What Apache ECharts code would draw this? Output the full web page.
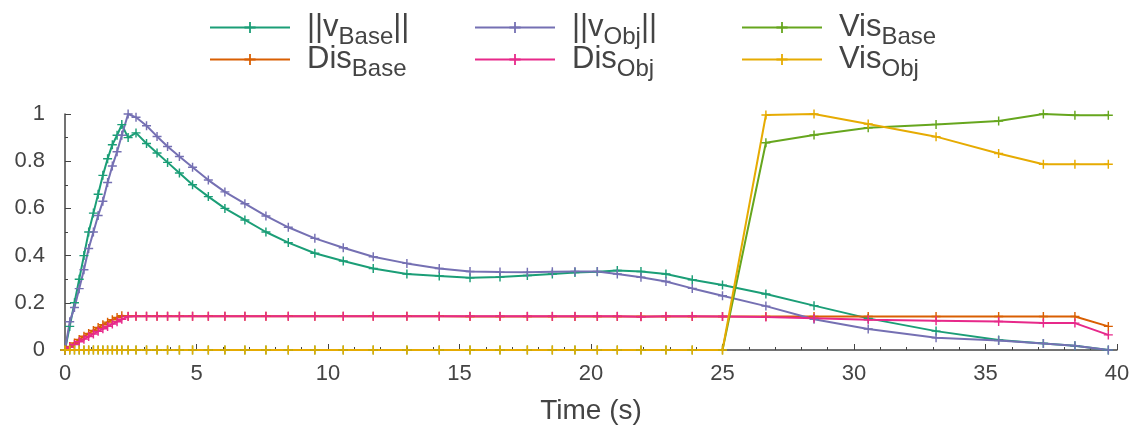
<!DOCTYPE html>
<html>
<head>
<meta charset="utf-8">
<script src="https://cdn.jsdelivr.net/npm/echarts@6/dist/echarts.min.js"></script>
<style>
  html, body { margin: 0; padding: 0; background: #fff; }
  #chart { width: 1134px; height: 430px; }
</style>
</head>
<body>
<div id="chart"></div>
<script>
// sample times (s), shared by every series
const time = [0, 0.18, 0.36, 0.54, 0.72, 0.9, 1.08, 1.26, 1.44, 1.62, 1.8, 1.98, 2.16, 2.4, 2.7,
  3.1, 3.5, 3.9, 4.35, 4.85, 5.45, 6.08, 6.84, 7.64, 8.49, 9.5, 10.58, 11.72, 13.0, 14.23,
  15.4, 16.54, 17.58, 18.53, 19.39, 20.24, 21.0, 21.9, 22.85, 23.85, 25.0, 26.65, 28.48,
  30.54, 33.12, 35.5, 37.2, 38.4, 39.67]

const vBase = [0, 0.10, 0.20, 0.30, 0.40, 0.50, 0.58, 0.66, 0.74, 0.81, 0.87, 0.91, 0.955, 0.90, 0.92,
  0.875, 0.835, 0.795, 0.75, 0.70, 0.65, 0.60, 0.551, 0.50, 0.455, 0.41, 0.377, 0.345, 0.322, 0.314,
  0.306, 0.309, 0.316, 0.322, 0.328, 0.332, 0.337, 0.333, 0.322, 0.298, 0.275, 0.237, 0.188,
  0.134, 0.08, 0.042, 0.028, 0.018, 0]

const disBase = [0, 0.015, 0.03, 0.045, 0.058, 0.07, 0.083, 0.095, 0.107, 0.118, 0.128, 0.138, 0.145, 0.143, 0.143,
  0.143, 0.143, 0.143, 0.143, 0.143, 0.143, 0.143, 0.143, 0.143, 0.143, 0.143, 0.143, 0.143, 0.143, 0.143,
  0.142, 0.142, 0.142, 0.142, 0.142, 0.142, 0.142, 0.142, 0.142, 0.142, 0.142, 0.142, 0.142,
  0.142, 0.142, 0.142, 0.142, 0.142, 0.1]

const vObj = [0, 0.12, 0.18, 0.26, 0.34, 0.43, 0.50, 0.57, 0.63, 0.71, 0.78, 0.84, 0.91, 1.0, 0.986,
  0.95, 0.905, 0.862, 0.82, 0.774, 0.72, 0.67, 0.62, 0.568, 0.52, 0.473, 0.433, 0.395, 0.367, 0.345,
  0.333, 0.33, 0.329, 0.332, 0.333, 0.333, 0.322, 0.308, 0.29, 0.261, 0.23, 0.186, 0.13,
  0.089, 0.052, 0.04, 0.028, 0.018, 0]

const disObj = [0, 0.012, 0.023, 0.035, 0.046, 0.057, 0.068, 0.079, 0.09, 0.10, 0.11, 0.12, 0.13, 0.142, 0.143,
  0.143, 0.143, 0.143, 0.143, 0.143, 0.143, 0.143, 0.143, 0.143, 0.143, 0.143, 0.143, 0.143, 0.143, 0.143,
  0.143, 0.143, 0.143, 0.143, 0.143, 0.143, 0.143, 0.141, 0.143, 0.143, 0.142, 0.14, 0.135,
  0.128, 0.124, 0.121, 0.114, 0.114, 0.064]

const visBase = [0, 0, 0, 0, 0, 0, 0, 0, 0, 0, 0, 0, 0, 0, 0,
  0, 0, 0, 0, 0, 0, 0, 0, 0, 0, 0, 0, 0, 0, 0,
  0, 0, 0, 0, 0, 0, 0, 0, 0, 0, 0, 0.878, 0.911,
  0.942, 0.956, 0.97, 1.0, 0.995, 0.995]

const visObj = [0, 0, 0, 0, 0, 0, 0, 0, 0, 0, 0, 0, 0, 0, 0,
  0, 0, 0, 0, 0, 0, 0, 0, 0, 0, 0, 0, 0, 0, 0,
  0, 0, 0, 0, 0, 0, 0, 0, 0, 0, 0, 0.996, 1.0,
  0.958, 0.904, 0.833, 0.787, 0.787, 0.787]

const names = ['||vBase||', 'DisBase', '||vObj||', 'DisObj', 'VisBase', 'VisObj']
const colors = ['#1b9e77', '#d95f02', '#7570b3', '#e7298a', '#66a61e', '#e6ab02']
const values = [vBase, disBase, vObj, disObj, visBase, visObj]
// legend text with subscripts
const labels = {
  '||vBase||': '{f|||v}{s|Base}{m|||}',
  'DisBase': '{f|Dis}{s|Base}',
  '||vObj||': '{f|||v}{s|Obj}{m|||}',
  'DisObj': '{f|Dis}{s|Obj}',
  'VisBase': '{f|Vis}{s|Base}',
  'VisObj': '{f|Vis}{s|Obj}'
}

const font = 'Liberation Sans, Arial, sans-serif'
const plus = 'path://M4.2,0H5.8V4.2H10V5.8H5.8V10H4.2V5.8H0V4.2H4.2Z'

let legendPos = [[209, 12], [209, 44], [474, 12], [474, 44], [741, 12], [741, 44]]
let legends = names.map((n, i) => ({
  data: [n],
  left: legendPos[i][0],
  top: legendPos[i][1],
  padding: 0,
  itemWidth: 80,
  itemHeight: 14,
  itemGap: 0,
  selectedMode: false,
  formatter: name => labels[name],
  textStyle: {
    color: '#444',
    fontFamily: font,
    rich: {
      f: { fontSize: 31, lineHeight: 31, color: '#444', fontFamily: font, verticalAlign: 'top', padding: [0, 0, 0, 12] },
      m: { fontSize: 31, lineHeight: 31, color: '#444', fontFamily: font, verticalAlign: 'top' },
      s: { fontSize: 24, lineHeight: 24, color: '#444', fontFamily: font, verticalAlign: 'top', padding: [13, 0, 0, 0] }
    }
  }
}))

let option = {
  animation: false,
  color: colors,
  legend: legends,
  grid: { left: 65, right: 17, top: 114, bottom: 80, outerBoundsMode: 'none' },
  xAxis: {
    type: 'value',
    min: 0,
    max: 40,
    interval: 5,
    name: 'Time (s)',
    nameLocation: 'middle',
    nameGap: 47,
    nameTextStyle: { fontSize: 28, color: '#444', fontFamily: font },
    axisLine: { lineStyle: { color: '#444', width: 1.5 } },
    axisTick: { inside: true, length: 6, lineStyle: { color: '#444' } },
    minorTick: { show: true, splitNumber: 5, length: 3, lineStyle: { color: '#444' } },
    axisLabel: { fontSize: 22, color: '#444', fontFamily: font, margin: 13 },
    splitLine: { show: false }
  },
  yAxis: {
    type: 'value',
    min: 0,
    max: 1,
    interval: 0.2,
    axisLine: { show: true, lineStyle: { color: '#444', width: 1.5 } },
    axisTick: { show: true, inside: true, length: 6, lineStyle: { color: '#444' } },
    minorTick: { show: true, splitNumber: 2, length: 3, lineStyle: { color: '#444' } },
    axisLabel: { fontSize: 22, color: '#444', fontFamily: font, margin: 20 },
    splitLine: { show: false }
  },
  series: names.map((n, i) => ({
    name: n,
    type: 'line',
    data: time.map((t, k) => [t, values[i][k]]),
    symbol: plus,
    symbolSize: 9,
    showAllSymbol: true,
    lineStyle: { width: 2, color: colors[i] },
    itemStyle: { color: colors[i] }
  }))
}

let chart = echarts.init(document.getElementById('chart'))
chart.setOption(option)
</script>
</body>
</html>
